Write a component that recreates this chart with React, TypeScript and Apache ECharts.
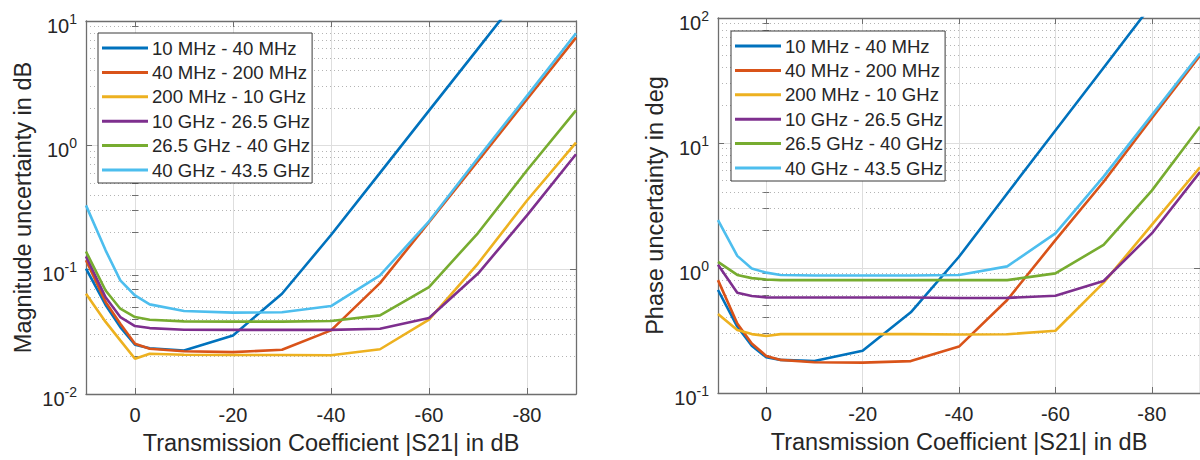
import React, { useEffect, useRef } from "react";
import * as echarts from "echarts";

// ---------- data ----------
const X_DB = [10, 6, 3, 0, -3, -10, -20, -30, -40, -50, -60, -70, -80, -90];
const X_TICKS = [0, -20, -40, -60, -80];

const SERIES_NAMES = [
  "10 MHz - 40 MHz",
  "40 MHz - 200 MHz",
  "200 MHz - 10 GHz",
  "10 GHz - 26.5 GHz",
  "26.5 GHz - 40 GHz",
  "40 GHz - 43.5 GHz",
];
const COLORS = ["#0072BD", "#D95319", "#EDB120", "#7E2F8E", "#77AC30", "#4DBEEE"];

// Magnitude uncertainty in dB
const MAG_10M_40M = [0.102, 0.052, 0.0345, 0.0249, 0.0233, 0.0224, 0.0296, 0.064, 0.19, 0.6, 1.9, 6.0, 19, 60];
const MAG_40M_200M = [0.119, 0.055, 0.0367, 0.0254, 0.0231, 0.0221, 0.0217, 0.0227, 0.0325, 0.078, 0.241, 0.75, 2.35, 7.35];
const MAG_200M_10G = [0.064, 0.038, 0.027, 0.0192, 0.0211, 0.0207, 0.0206, 0.0206, 0.0205, 0.0229, 0.0396, 0.112, 0.36, 1.05];
const MAG_10G_265G = [0.128, 0.06, 0.0416, 0.0352, 0.0339, 0.0329, 0.0328, 0.0328, 0.0328, 0.0335, 0.0408, 0.093, 0.273, 0.847];
const MAG_265G_40G = [0.14, 0.068, 0.0485, 0.0416, 0.0396, 0.0384, 0.0382, 0.0382, 0.0386, 0.0429, 0.0725, 0.197, 0.63, 1.91];
const MAG_40G_435G = [0.329, 0.143, 0.082, 0.062, 0.0526, 0.0465, 0.0451, 0.0455, 0.051, 0.09, 0.245, 0.79, 2.5, 7.96];

// Phase uncertainty in deg
const PH_10M_40M = [0.667, 0.34, 0.239, 0.193, 0.184, 0.18, 0.218, 0.442, 1.23, 3.95, 12.6, 40, 128, 405];
const PH_40M_200M = [0.8, 0.36, 0.249, 0.198, 0.184, 0.176, 0.175, 0.18, 0.235, 0.555, 1.67, 4.9, 15.8, 50];
const PH_200M_10G = [0.428, 0.319, 0.296, 0.286, 0.296, 0.296, 0.296, 0.296, 0.294, 0.295, 0.315, 0.763, 2.21, 6.4];
const PH_10G_265G = [1.06, 0.635, 0.597, 0.582, 0.58, 0.58, 0.58, 0.58, 0.575, 0.577, 0.6, 0.787, 1.89, 5.85];
const PH_265G_40G = [1.12, 0.88, 0.83, 0.81, 0.8, 0.8, 0.8, 0.8, 0.8, 0.8, 0.906, 1.53, 4.16, 13.5];
const PH_40G_435G = [2.42, 1.25, 0.99, 0.918, 0.88, 0.87, 0.87, 0.87, 0.88, 1.03, 1.89, 5.38, 16.7, 52];

const MAG_SERIES = [MAG_10M_40M, MAG_40M_200M, MAG_200M_10G, MAG_10G_265G, MAG_265G_40G, MAG_40G_435G];
const PH_SERIES = [PH_10M_40M, PH_40M_200M, PH_200M_10G, PH_10G_265G, PH_265G_40G, PH_40G_435G];

const MAG_MINOR = [0.02, 0.03, 0.04, 0.05, 0.06, 0.07, 0.08, 0.09, 0.2, 0.3, 0.4, 0.5, 0.6, 0.7, 0.8, 0.9, 2, 3, 4, 5, 6, 7, 8, 9];
const PH_MINOR = [0.2, 0.3, 0.4, 0.5, 0.6, 0.7, 0.8, 0.9, 2, 3, 4, 5, 6, 7, 8, 9, 20, 30, 40, 50, 60, 70, 80, 90];

const X_TITLE = "Transmission Coefficient |S21| in dB";
const MAG_TITLE = "Magnitude uncertainty in dB";
const PH_TITLE = "Phase uncertainty in deg";

// ---------- styles ----------
const FONT = "Liberation Sans, Arial, Helvetica, sans-serif";
const TEXT = "#262626";
const FRAME = "#6e6e6e";

function buildXAxes(gridIndex: number, title: string) {
  const common = {
    type: "value",
    gridIndex,
    min: -90,
    max: 10,
    inverse: true,
  };
  return [
    {
      ...common,
      position: "bottom",
      name: title,
      nameLocation: "middle",
      nameGap: 37,
      nameTextStyle: { fontFamily: FONT, fontSize: 23.5, color: TEXT },
      axisLine: { show: true, onZero: false, lineStyle: { color: FRAME, width: 1.3 } },
      axisTick: { show: true, inside: true, length: 6, customValues: X_TICKS, lineStyle: { color: FRAME } },
      axisLabel: { show: true, customValues: X_TICKS, margin: 11, fontFamily: FONT, fontSize: 20, color: TEXT },
      splitLine: { show: true, lineStyle: { color: "#dedede", width: 1 } },
    },
    {
      ...common,
      position: "top",
      axisLine: { show: true, onZero: false, lineStyle: { color: FRAME, width: 1.3 } },
      axisTick: { show: true, inside: true, length: 6, customValues: X_TICKS, lineStyle: { color: FRAME } },
      axisLabel: { show: false },
      splitLine: { show: false },
    },
  ];
}

function buildYAxes(gridIndex: number, min: number, max: number, minor: number[], title: string) {
  const common = { type: "log", logBase: 10, gridIndex, min, max };
  return [
    {
      ...common,
      position: "left",
      name: title,
      nameLocation: "middle",
      nameGap: 51,
      nameTextStyle: { fontFamily: FONT, fontSize: 23.5, color: TEXT },
      axisLine: { show: true, onZero: false, lineStyle: { color: FRAME, width: 1.3 } },
      axisTick: { show: true, inside: true, length: 6, lineStyle: { color: FRAME } },
      axisLabel: {
        show: true,
        margin: 9,
        padding: [9, 0, 0, 0],
        formatter: (v: number) => `{b|10}{e|${Math.round(Math.log10(v))}}`,
        rich: {
          b: { fontFamily: FONT, fontSize: 20, color: TEXT, lineHeight: 28 },
          e: { fontFamily: FONT, fontSize: 14, color: TEXT, lineHeight: 14, verticalAlign: "top" },
        },
      },
      splitLine: { show: true, lineStyle: { color: "#dedede", width: 1 } },
    },
    {
      ...common,
      position: "left",
      axisLine: { show: false },
      axisTick: { show: true, inside: true, length: 3, customValues: minor, lineStyle: { color: FRAME } },
      axisLabel: { show: false },
      splitLine: { show: true, lineStyle: { color: "#b4b4b4", width: 1, type: [1, 3] } },
    },
    {
      ...common,
      position: "right",
      axisLine: { show: true, onZero: false, lineStyle: { color: FRAME, width: 1.3 } },
      axisTick: { show: true, inside: true, length: 6, lineStyle: { color: FRAME } },
      axisLabel: { show: false },
      splitLine: { show: false },
    },
    {
      ...common,
      position: "right",
      axisLine: { show: false },
      axisTick: { show: true, inside: true, length: 3, customValues: minor, lineStyle: { color: FRAME } },
      axisLabel: { show: false },
      splitLine: { show: false },
    },
  ];
}

function buildLegend(left: number, top: number) {
  return {
    show: true,
    orient: "vertical",
    left,
    top,
    data: SERIES_NAMES,
    icon: "rect",
    itemWidth: 46,
    itemHeight: 3,
    itemGap: 4.4,
    padding: [5, 2, 3, 4],
    backgroundColor: "#ffffff",
    borderColor: "#3a3a3a",
    borderWidth: 1,
    borderRadius: 0,
    selectedMode: false,
    textStyle: { fontFamily: FONT, fontSize: 18.6, color: TEXT, lineHeight: 20, padding: [0, 0, 0, -1] },
  };
}

export default function App() {
  const ref = useRef<HTMLDivElement>(null);

  useEffect(() => {
    if (!ref.current) return;
    const chart = echarts.init(ref.current, null, { renderer: "svg" });

    const series: any[] = [];
    MAG_SERIES.forEach((vals, i) => {
      series.push({
        type: "line",
        name: SERIES_NAMES[i],
        xAxisIndex: 0,
        yAxisIndex: 0,
        data: X_DB.map((x, k) => [x, vals[k]]),
        symbol: "none",
        clip: true,
        color: COLORS[i],
        lineStyle: { width: 2.6, color: COLORS[i] },
      });
    });
    PH_SERIES.forEach((vals, i) => {
      series.push({
        type: "line",
        name: SERIES_NAMES[i],
        xAxisIndex: 2,
        yAxisIndex: 4,
        data: X_DB.map((x, k) => [x, vals[k]]),
        symbol: "none",
        clip: true,
        color: COLORS[i],
        lineStyle: { width: 2.6, color: COLORS[i] },
      });
    });

    chart.setOption({
      animation: false,
      backgroundColor: "#ffffff",
      grid: [
        { left: 86, top: 21, width: 490, height: 373, containLabel: false },
        { left: 718, top: 18, width: 491, height: 375, containLabel: false },
      ],
      xAxis: [...buildXAxes(0, X_TITLE), ...buildXAxes(1, X_TITLE)],
      yAxis: [
        ...buildYAxes(0, 0.01, 10, MAG_MINOR, MAG_TITLE),
        ...buildYAxes(1, 0.1, 100, PH_MINOR, PH_TITLE),
      ],
      legend: [buildLegend(98, 33), buildLegend(731, 31)],
      series,
    });

    return () => chart.dispose();
  }, []);

  return (
    <div
      ref={ref}
      style={{ position: "absolute", left: 0, top: 0, width: 1200, height: 460 }}
    />
  );
}
